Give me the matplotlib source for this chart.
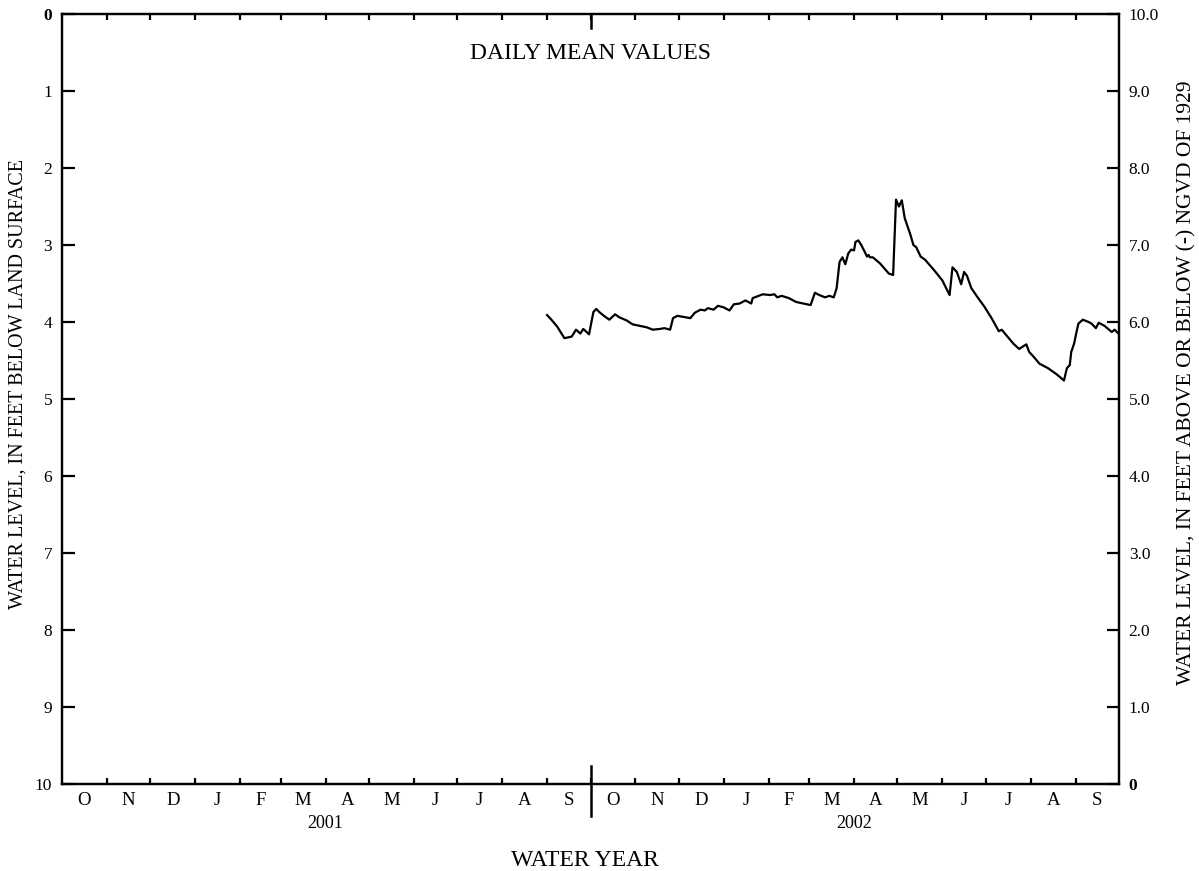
import pandas as pd
import matplotlib.pyplot as plt
import matplotlib.dates as mdates

plt.rcParams["font.family"] = "Liberation Serif"

# daily mean water level, feet below land surface
dates = [
    "2001-09-01", "2001-09-04", "2001-09-08", "2001-09-13", "2001-09-18", "2001-09-21",
    "2001-09-24", "2001-09-26", "2001-09-30", "2001-10-03", "2001-10-05", "2001-10-07",
    "2001-10-11", "2001-10-14", "2001-10-18", "2001-10-21", "2001-10-26", "2001-10-30",
    "2001-11-04", "2001-11-09", "2001-11-13", "2001-11-18", "2001-11-21", "2001-11-25",
    "2001-11-27", "2001-11-30", "2001-12-06", "2001-12-09", "2001-12-12", "2001-12-16",
    "2001-12-19", "2001-12-21", "2001-12-25", "2001-12-28", "2002-01-01", "2002-01-05",
    "2002-01-08", "2002-01-12", "2002-01-16", "2002-01-20", "2002-01-21", "2002-01-28",
    "2002-02-02", "2002-02-05", "2002-02-07", "2002-02-10", "2002-02-15", "2002-02-20",
    "2002-02-25", "2002-03-02", "2002-03-05", "2002-03-08", "2002-03-12", "2002-03-15",
    "2002-03-18", "2002-03-20", "2002-03-22", "2002-03-24", "2002-03-26", "2002-03-28",
    "2002-03-30", "2002-04-01", "2002-04-02", "2002-04-04", "2002-04-06", "2002-04-10",
    "2002-04-11", "2002-04-12", "2002-04-14", "2002-04-19", "2002-04-25", "2002-04-28",
    "2002-04-30", "2002-05-02", "2002-05-04", "2002-05-06", "2002-05-10", "2002-05-12",
    "2002-05-14", "2002-05-17", "2002-05-20", "2002-05-26", "2002-06-01", "2002-06-06",
    "2002-06-08", "2002-06-11", "2002-06-14", "2002-06-16", "2002-06-18", "2002-06-21",
    "2002-06-25", "2002-06-30", "2002-07-05", "2002-07-10", "2002-07-12", "2002-07-16",
    "2002-07-20", "2002-07-24", "2002-07-29", "2002-07-31", "2002-08-03", "2002-08-07",
    "2002-08-13", "2002-08-19", "2002-08-24", "2002-08-26", "2002-08-28", "2002-08-29",
    "2002-08-31", "2002-09-02", "2002-09-03", "2002-09-06", "2002-09-10", "2002-09-12",
    "2002-09-15", "2002-09-17", "2002-09-21", "2002-09-26", "2002-09-28", "2002-09-30",
]
depth = [
    3.91, 3.97, 4.06, 4.21, 4.19, 4.10,
    4.15, 4.09, 4.16, 3.87, 3.83, 3.87,
    3.93, 3.97, 3.90, 3.94, 3.98, 4.03,
    4.05, 4.07, 4.10, 4.09, 4.08, 4.10,
    3.95, 3.92, 3.94, 3.95, 3.88, 3.84,
    3.85, 3.82, 3.84, 3.79, 3.81, 3.85,
    3.77, 3.76, 3.72, 3.76, 3.69, 3.64,
    3.65, 3.64, 3.68, 3.66, 3.69, 3.74,
    3.76, 3.78, 3.62, 3.65, 3.68, 3.66,
    3.68, 3.56, 3.22, 3.16, 3.25, 3.11,
    3.06, 3.07, 2.96, 2.94, 3.00, 3.15,
    3.13, 3.16, 3.16, 3.24, 3.37, 3.39,
    2.41, 2.50, 2.42, 2.65, 2.87, 3.00,
    3.03, 3.15, 3.19, 3.32, 3.46, 3.65,
    3.29, 3.35, 3.51, 3.35, 3.40, 3.56,
    3.67, 3.80, 3.95, 4.12, 4.10, 4.19,
    4.28, 4.35, 4.29, 4.39, 4.45, 4.54,
    4.60, 4.68, 4.76, 4.60, 4.56, 4.39,
    4.28, 4.10, 4.02, 3.97, 4.00, 4.02,
    4.08, 4.01, 4.05, 4.13, 4.10, 4.14,
]

month_letters = ["O", "N", "D", "J", "F", "M", "A", "M", "J", "J", "A", "S"] * 2
year_labels = ["2001", "2002"]
left_labels = ["0", "1", "2", "3", "4", "5", "6", "7", "8", "9", "10"]
right_labels = ["10.0", "9.0", "8.0", "7.0", "6.0", "5.0", "4.0", "3.0", "2.0", "1.0", "0"]

t = pd.to_datetime(dates)
start = pd.Timestamp("2000-10-01")
end = pd.Timestamp("2002-10-01")
month_starts = pd.date_range(start, end, freq="MS")
mid_months = month_starts[:-1] + (month_starts[1:] - month_starts[:-1]) / 2
year_mid = [pd.Timestamp("2001-04-01"), pd.Timestamp("2002-04-01")]
divider = pd.Timestamp("2001-10-01")

fig = plt.figure(figsize=(11.99, 8.71), dpi=100)
ax = fig.add_axes([62 / 1199, 1 - 784 / 871, (1119 - 62) / 1199, 770 / 871])

ax.plot(t, depth, color="black", lw=1.6)
ax.set_xlim(start, end)
ax.set_ylim(10, 0)

for s in ax.spines.values():
    s.set_linewidth(1.6)

# x: month boundary ticks, letters centred in each month
ax.set_xticks(month_starts[1:-1])
ax.tick_params(axis="x", which="major", direction="in", length=4.5, width=1.6,
               top=True, labelbottom=False)
ax.set_xticks(mid_months, minor=True)
ax.set_xticklabels(month_letters, minor=True, fontsize=13.5)
ax.tick_params(axis="x", which="minor", length=0, pad=6)

# left y
ax.set_yticks(range(11))
ax.set_yticklabels(left_labels, fontsize=12.5)
ax.tick_params(axis="y", direction="in", length=9, width=1.6, pad=7)
ax.get_yticklabels()[0].set_fontweight("bold")

# right y
ax2 = ax.twinx()
ax2.set_ylim(0, 10)
ax2.set_yticks(range(10, -1, -1))
ax2.set_yticklabels(right_labels, fontsize=12.5)
ax2.tick_params(axis="y", direction="in", length=9, width=1.6, pad=7)
ax2.get_yticklabels()[-1].set_fontweight("bold")
for s in ax2.spines.values():
    s.set_linewidth(1.6)

# water-year divider
xt = ax.get_xaxis_transform()
ax.plot([divider, divider], [0.024, -0.042], color="black", lw=1.8,
        transform=xt, clip_on=False)
ax.plot([divider, divider], [1.0, 0.982], color="black", lw=1.8,
        transform=xt, clip_on=False)

for d, yr in zip(year_mid, year_labels):
    ax.text(d, -0.051, yr, transform=xt, ha="center", va="center", fontsize=13)

ax.text(0.5, 0.949, "DAILY MEAN VALUES", transform=ax.transAxes,
        ha="center", va="center", fontsize=17)
fig.text(585 / 1199, 1 - 860 / 871, "WATER YEAR", ha="center", va="center", fontsize=17)
fig.text(18 / 1199, 1 - 384 / 871, "WATER LEVEL, IN FEET BELOW LAND SURFACE",
         rotation=90, ha="center", va="center", fontsize=14.5)
fig.text(1187 / 1199, 1 - 383 / 871,
         "WATER LEVEL, IN FEET ABOVE OR BELOW (-) NGVD OF 1929",
         rotation=90, ha="center", va="center", fontsize=15.5)

fig.savefig("out.png", dpi=100)
